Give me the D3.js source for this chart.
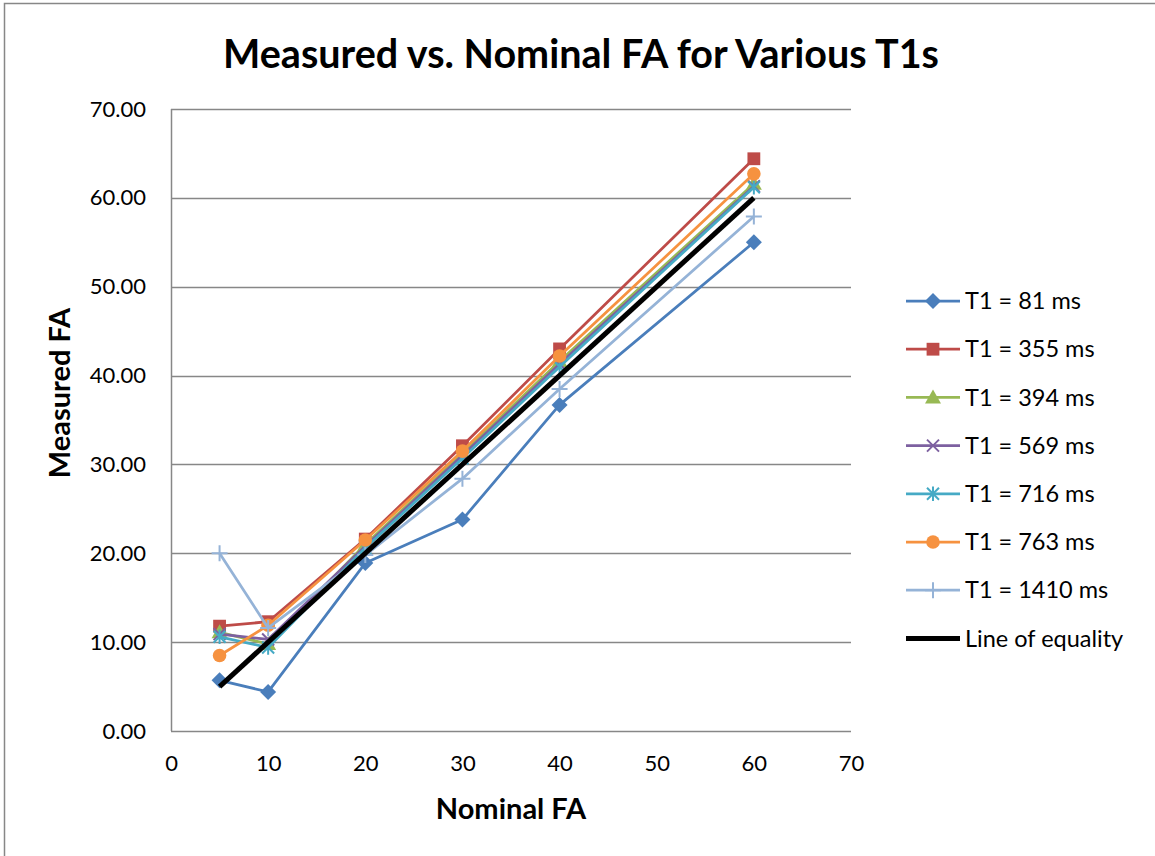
<!DOCTYPE html>
<html>
<head>
<meta charset="utf-8">
<script src="https://cdn.jsdelivr.net/npm/d3@7"></script>
<style>
  html, body { margin: 0; padding: 0; background: #fff; }
  svg { display: block; font-family: Lato, "Open Sans", sans-serif; }
</style>
</head>
<body>
<svg id="chart" width="1155" height="856"></svg>
<script>
// Nominal flip angles (degrees)
const nominalFA = [5, 10, 20, 30, 40, 60];

// Measured flip angle for each T1 phantom
const t1_81   = [5.7, 4.4, 18.9, 23.8, 36.7, 55.0];
const t1_355  = [11.8, 12.3, 21.6, 32.1, 43.0, 64.4];
const t1_394  = [11.1, 9.8, 21.0, 31.2, 41.6, 61.6];
const t1_569  = [10.9, 10.3, 20.8, 31.0, 41.3, 61.3];
const t1_716  = [10.6, 9.4, 20.6, 30.7, 41.0, 61.2];
const t1_763  = [8.5, 11.9, 21.5, 31.5, 42.2, 62.7];
const t1_1410 = [20.0, 11.6, 19.8, 28.4, 38.5, 57.9];
const equality = [5, 60];
const equalityX = [5, 60];

const seriesNames = ["T1 = 81 ms", "T1 = 355 ms", "T1 = 394 ms", "T1 = 569 ms",
                     "T1 = 716 ms", "T1 = 763 ms", "T1 = 1410 ms"];
const seriesValues = [t1_81, t1_355, t1_394, t1_569, t1_716, t1_763, t1_1410];
const seriesColors = ["#4A7EBB", "#BE4B48", "#98B954", "#7D60A0", "#46AAC5", "#F69240", "#95B3D7"];
const seriesMarkers = ["diamond", "square", "triangle", "x", "asterisk", "circle", "plus"];

const xTicks = [0, 10, 20, 30, 40, 50, 60, 70];
const yTicks = [0, 10, 20, 30, 40, 50, 60, 70];

const svg = d3.select("#chart");

// Outer chart frame
svg.append("rect")
  .attr("x", 4.5).attr("y", 3.5)
  .attr("width", 1170).attr("height", 870)
  .attr("fill", "#fff").attr("stroke", "#878787").attr("stroke-width", 1.5);

const plot = { left: 171, right: 851, top: 109, bottom: 731 };

const x = d3.scaleLinear().domain([0, 70]).range([plot.left, plot.right]);
const y = d3.scaleLinear().domain([0, 70]).range([plot.bottom, plot.top]);

// Horizontal gridlines
svg.append("g")
  .selectAll("line")
  .data(yTicks)
  .join("line")
  .attr("x1", plot.left).attr("x2", plot.right)
  .attr("y1", d => Math.round(y(d)) + 0.5).attr("y2", d => Math.round(y(d)) + 0.5)
  .attr("stroke", "#878787").attr("stroke-width", 1.5);

// Y axis line
svg.append("line")
  .attr("x1", plot.left + 0.5).attr("x2", plot.left + 0.5)
  .attr("y1", plot.top).attr("y2", plot.bottom)
  .attr("stroke", "#878787").attr("stroke-width", 1.5);

// Axes (labels only)
const yAxis = d3.axisLeft(y).tickValues(yTicks).tickSize(0).tickPadding(25)
  .tickFormat(d3.format(".2f"));
const yg = svg.append("g").attr("transform", `translate(${plot.left},0)`).call(yAxis);
yg.select(".domain").remove();
yg.selectAll("text").attr("font-size", 22).attr("fill", "#000")
  .attr("font-family", "Lato, 'Open Sans', sans-serif");

const xAxis = d3.axisBottom(x).tickValues(xTicks).tickSize(0).tickPadding(24);
const xg = svg.append("g").attr("transform", `translate(0,${plot.bottom})`).call(xAxis);
xg.select(".domain").remove();
xg.selectAll("text").attr("font-size", 22).attr("fill", "#000")
  .attr("font-family", "Lato, 'Open Sans', sans-serif");

// Marker drawing
function drawMarker(g, type, color, size) {
  const s = size;
  switch (type) {
    case "diamond":
      g.append("path").attr("d", `M0,${-s} L${s},0 L0,${s} L${-s},0 Z`).attr("fill", color);
      break;
    case "square":
      g.append("rect").attr("x", -s * 0.8).attr("y", -s * 0.8)
        .attr("width", s * 1.6).attr("height", s * 1.6).attr("fill", color);
      break;
    case "triangle":
      g.append("path").attr("d", `M0,${-s} L${s},${s * 0.75} L${-s},${s * 0.75} Z`).attr("fill", color);
      break;
    case "x":
      g.append("path").attr("d", `M${-s * 0.75},${-s * 0.75} L${s * 0.75},${s * 0.75} M${-s * 0.75},${s * 0.75} L${s * 0.75},${-s * 0.75}`)
        .attr("stroke", color).attr("stroke-width", 2).attr("fill", "none");
      break;
    case "asterisk":
      g.append("path").attr("d", `M${-s * 0.75},${-s * 0.75} L${s * 0.75},${s * 0.75} M${-s * 0.75},${s * 0.75} L${s * 0.75},${-s * 0.75} M0,${-s * 0.9} L0,${s * 0.9}`)
        .attr("stroke", color).attr("stroke-width", 2).attr("fill", "none");
      break;
    case "circle":
      g.append("circle").attr("r", s * 0.85).attr("fill", color);
      break;
    case "plus":
      g.append("path").attr("d", `M${-s},0 L${s},0 M0,${-s} L0,${s}`)
        .attr("stroke", color).attr("stroke-width", 2).attr("fill", "none");
      break;
  }
}

const line = d3.line().x(d => x(d[0])).y(d => y(d[1]));

// Data series
seriesValues.forEach((vals, i) => {
  const pts = nominalFA.map((fa, j) => [fa, vals[j]]);
  const g = svg.append("g");
  g.append("path").attr("d", line(pts))
    .attr("fill", "none").attr("stroke", seriesColors[i])
    .attr("stroke-width", 2.75).attr("stroke-linejoin", "round");
  pts.forEach(p => {
    const m = g.append("g").attr("transform", `translate(${x(p[0])},${y(p[1])})`);
    drawMarker(m, seriesMarkers[i], seriesColors[i], 8);
  });
});

// Line of equality
svg.append("path")
  .attr("d", line(equalityX.map((v, j) => [v, equality[j]])))
  .attr("fill", "none").attr("stroke", "#000").attr("stroke-width", 5)
  .attr("stroke-linecap", "butt");

// Legend
const legendRows = seriesNames.map((n, i) => ({ name: n, color: seriesColors[i], marker: seriesMarkers[i] }))
  .concat([{ name: "Line of equality", color: "#000", marker: null }]);
const legend = svg.append("g");
legendRows.forEach((r, i) => {
  const ly = 301 + i * 48.2;
  const g = legend.append("g").attr("transform", `translate(0,${ly})`);
  g.append("line").attr("x1", 906).attr("x2", 960).attr("y1", 0).attr("y2", 0)
    .attr("stroke", r.color).attr("stroke-width", r.marker ? 2.75 : 5);
  if (r.marker) {
    const m = g.append("g").attr("transform", "translate(933,0)");
    drawMarker(m, r.marker, r.color, 8);
  }
  g.append("text").attr("x", 965).attr("y", 0).attr("dy", "0.35em")
    .attr("font-size", 23.5).attr("fill", "#000").text(r.name);
});

// Titles
svg.append("text").attr("x", 581).attr("y", 68).attr("text-anchor", "middle")
  .attr("font-size", 39.5).attr("font-weight", "bold").attr("fill", "#000")
  .text("Measured vs. Nominal FA for Various T1s");

svg.append("text").attr("x", 511).attr("y", 819).attr("text-anchor", "middle")
  .attr("font-size", 29).attr("font-weight", "bold").attr("fill", "#000")
  .text("Nominal FA");

svg.append("text").attr("transform", "translate(70,393) rotate(-90)")
  .attr("text-anchor", "middle")
  .attr("font-size", 29).attr("font-weight", "bold").attr("fill", "#000")
  .text("Measured FA");
</script>
</body>
</html>
